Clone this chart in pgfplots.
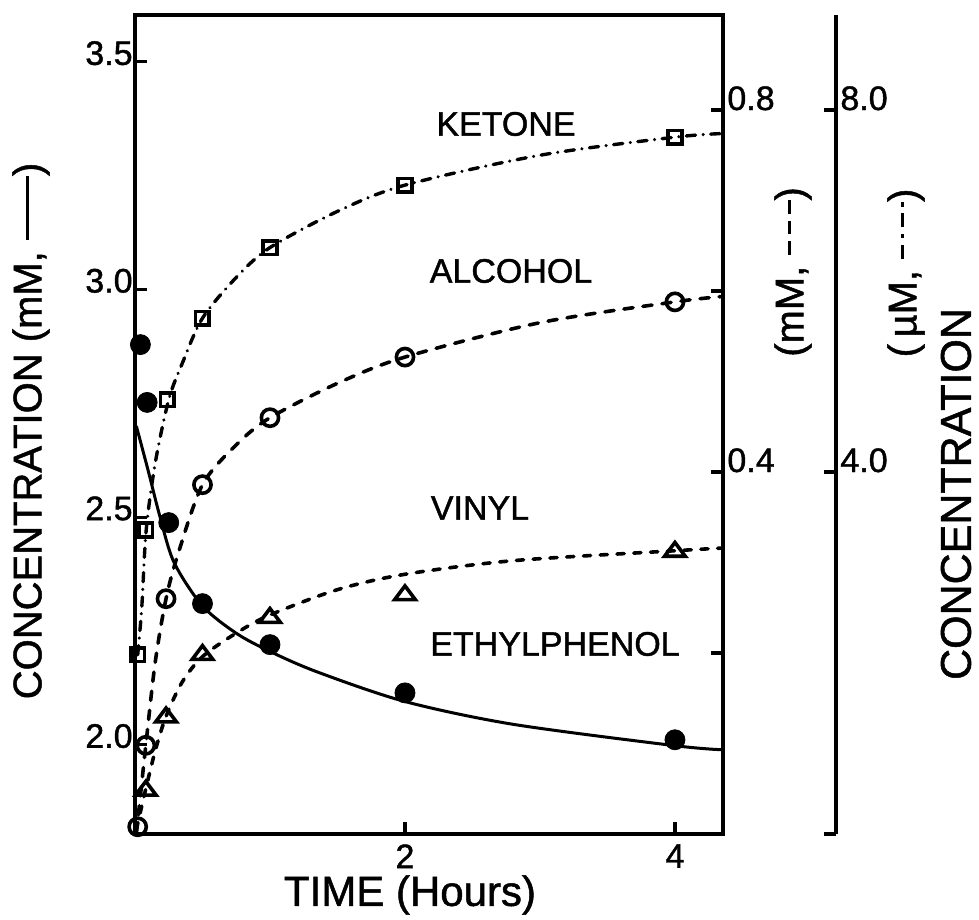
\documentclass[border=0pt]{standalone}
\usepackage{fontspec}
\setmainfont{Liberation Sans}[FakeBold=1.2]
\usepackage{pgfplots}
\pgfplotsset{compat=1.18}
\newcommand{\dsh}{\rule[0.3em]{0.34em}{1.5pt}}
\newcommand{\dt}{\rule[0.3em]{0.12em}{1.5pt}}
\begin{document}
\begin{tikzpicture}
\useasboundingbox (-67.5pt,-43pt) rectangle (422pt,417pt);
\pgfplotsset{
  myax/.style={width=294pt, height=409.5pt, scale only axis, xmin=0, xmax=4.356,
    clip=false, at={(0pt,0pt)}, anchor=south west,
    tick align=inside, major tick length=6pt,
    major tick style={line width=1.6pt, black},
    tick label style={font=\fontsize{17}{20}\selectfont}},
}
% ---- left axis: ethylphenol (mM, solid)
\begin{axis}[myax, ymin=1.804, ymax=3.603,
  axis line style={line width=2pt},
  tick pos=left,
  xtick={2,4}, xticklabels={2,4},
  ytick={2,2.5,3,3.5}, yticklabels={2.0,2.5,3.0,3.5},
  yticklabel style={anchor=base east, inner sep=1pt, yshift=-1.5pt},
  xticklabel style={anchor=north, inner sep=0pt, yshift=-5pt},
]
\addplot[line width=1.5pt, smooth] coordinates {
(0.01,2.70) (0.096,2.604) (0.185,2.501) (0.29,2.40) (0.5,2.305) (0.75,2.245)
(1.0,2.205) (1.35,2.16) (2.0,2.095) (2.8,2.045) (4.0,1.998) (4.356,1.989)};
\addplot[only marks, mark=*, mark size=5pt, black] coordinates {
(0.04,2.879) (0.09,2.752) (0.25,2.488) (0.5,2.31) (1.0,2.22) (2.0,2.114) (4.0,2.011)};
\end{axis}
% ---- middle right axis: alcohol, vinyl (mM, dashed)
\begin{axis}[myax, ymin=0, ymax=0.905,
  hide x axis, axis y line*=right,
  axis line style={line width=2pt},
  ytick={0.2,0.4,0.6,0.8}, yticklabels={,0.4,,0.8},
  yticklabel style={anchor=base west, inner sep=1pt, xshift=1pt},
]
\addplot[line width=1.8pt, smooth, line cap=round, dash pattern=on 4.6pt off 5pt] coordinates {
(0.01,0.0) (0.08,0.098) (0.15,0.19) (0.23,0.26) (0.32,0.31) (0.5,0.386) (0.75,0.43)
(1.0,0.46) (1.5,0.498) (2.0,0.527) (3.0,0.565) (4.0,0.588) (4.356,0.594)};
\addplot[line width=1.8pt, smooth, line cap=round, dash pattern=on 3.6pt off 4.8pt] coordinates {
(0.01,0.005) (0.03,0.018) (0.08,0.05) (0.15,0.092) (0.23,0.13) (0.35,0.168) (0.5,0.196)
(0.75,0.222) (1.0,0.242) (1.5,0.27) (2.0,0.287) (2.8,0.302) (4.0,0.313) (4.356,0.316)};
\addplot[only marks, mark=o, mark size=4.3pt, line width=1.8pt, mark options={fill=white}] coordinates {
(0.02,0.008) (0.08,0.098) (0.23,0.26) (0.5,0.386) (1.0,0.46) (2.0,0.527) (4.0,0.588)};
\addplot[only marks, mark=triangle, mark size=4.6pt, line width=1.8pt, mark options={fill=white, xscale=1.3}] coordinates {
(0.08,0.048) (0.23,0.129) (0.5,0.198) (1.0,0.239) (2.0,0.264) (4.0,0.312)};
\end{axis}
% ---- ketone (uM, dash-dot) on hidden axis
\begin{axis}[myax, ymin=0, ymax=9.05, hide axis]
\addplot[line width=1.7pt, smooth, line cap=round, dash pattern=on 4.6pt off 3.8pt on 0.01pt off 3.8pt] coordinates {
(0.02,1.98) (0.05,2.5) (0.083,3.36) (0.15,4.1) (0.25,4.80) (0.35,5.2) (0.5,5.70)
(0.75,6.15) (1.0,6.48) (1.5,6.88) (2.0,7.17) (3.0,7.5) (4.0,7.70) (4.356,7.74)};
\addplot[only marks, mark=square, mark size=3.4pt, line width=1.8pt, mark options={fill=white}] coordinates {
(0.02,1.98) (0.08,3.36) (0.24,4.80) (0.5,5.70) (1.0,6.48) (2.0,7.17) (4.0,7.70)};
\end{axis}
% ---- far right axis (uM)
\begin{axis}[myax, at={(56.5pt,0pt)}, ymin=0, ymax=9.05,
  hide x axis, axis y line*=right,
  axis line style={line width=1.6pt},
  ytick={0,4,8}, yticklabels={,4.0,8.0},
  yticklabel style={anchor=base west, inner sep=1pt, xshift=1pt},
]
\end{axis}
% ---- labels
\node[rotate=90, font=\fontsize{20}{24}\selectfont] at (-52pt,201.5pt)
  {CONCENTRATION (mM, \rule[0.3em]{1.6em}{1.5pt})};
\node[inner sep=0pt, font=\fontsize{21}{25}\selectfont] at (137.5pt,-30.5pt) {TIME (Hours)};
\node[rotate=90, font=\fontsize{20}{24}\selectfont] at (329pt,281pt) {(mM, \dsh\,\dsh\,\dsh)};
\node[rotate=90, font=\fontsize{20}{24}\selectfont] at (385.5pt,280.5pt) {(\,µM, \dsh\,\dt\,\dsh\,\dt)};
\node[rotate=90, font=\fontsize{21.5}{25}\selectfont] at (410.5pt,170pt) {CONCENTRATION};
\node[font=\fontsize{17}{20}\selectfont] at (185.5pt,355pt) {KETONE};
\node[font=\fontsize{17}{20}\selectfont] at (188pt,281.5pt) {ALCOHOL};
\node[font=\fontsize{17}{20}\selectfont] at (172.5pt,163pt) {VINYL};
\node[font=\fontsize{17}{20}\selectfont] at (210pt,95pt) {ETHYLPHENOL};
\end{tikzpicture}
\end{document}
